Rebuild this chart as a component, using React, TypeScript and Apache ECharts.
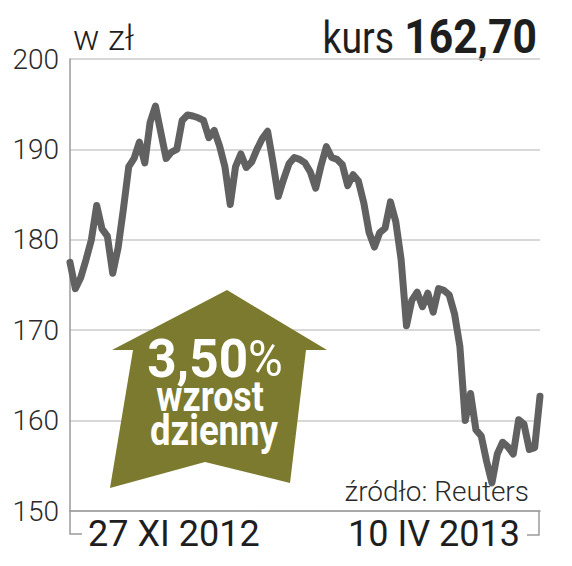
import React, { useEffect, useRef } from "react";
import * as echarts from "echarts";

// Daily closing prices (zł), 27 XI 2012 – 10 IV 2013
const prices: number[] = [
  177.5, 174.6, 175.8, 177.8, 180.0, 183.8, 181.2, 180.4, 176.3, 179.1,
  183.4, 188.1, 189.0, 190.8, 188.5, 193.0, 194.8, 191.9, 189.0, 189.7,
  190.0, 193.2, 193.8, 193.7, 193.5, 193.2, 191.3, 192.1, 190.4, 188.1,
  183.9, 188.1, 189.5, 188.0, 188.6, 190.0, 191.2, 192.0, 188.6, 184.8,
  186.7, 188.4, 189.1, 188.9, 188.5, 187.5, 185.7, 188.2, 190.3, 189.1,
  188.9, 188.3, 186.0, 187.2, 186.5, 184.1, 180.8, 179.2, 180.8, 181.3,
  184.2, 182.0, 177.8, 170.5, 173.3, 174.2, 172.6, 174.1, 172.0, 174.6,
  174.4, 173.9, 171.8, 168.2, 160.0, 163.0, 159.0, 158.3, 155.5, 153.1,
  156.3, 157.6, 157.1, 156.3, 160.1, 159.6, 156.8, 157.0, 162.7,
];
const days: string[] = prices.map((_, i) => `d${i + 1}`);
const xTickLabels: string[] = ["27 XI 2012", "10 IV 2013"];
const yMin = 150;
const yMax = 200;
const yStep = 10;
const unitLabel = "w zł";
const kursLabel = "kurs";
const kursValue = "162,70";
const changeValue = "3,50";
const changeLines: string[] = ["wzrost", "dzienny"];
const sourceLabel = "źródło: Reuters";

const FONT = "Roboto, 'Noto Sans', sans-serif";

export default function App() {
  const ref = useRef<HTMLDivElement>(null);
  useEffect(() => {
    if (!ref.current) return;
    const chart = echarts.init(ref.current, undefined, { renderer: "svg" });
    const olive = "#7b7a2e";
    const dark = "#1e1e1e";
    chart.setOption({
      animation: false,
      backgroundColor: "#ffffff",
      grid: { left: 70, right: 32, top: 59, bottom: 55 },
      xAxis: {
        type: "category",
        data: days,
        boundaryGap: false,
        axisLine: { show: true, lineStyle: { color: "#9a9a9a", width: 1.5 } },
        axisTick: { show: false },
        axisLabel: { show: false },
        splitLine: { show: false },
      },
      yAxis: {
        type: "value",
        min: yMin,
        max: yMax,
        interval: yStep,
        axisLine: { show: true, lineStyle: { color: "#9a9a9a", width: 1.5 } },
        axisTick: { show: false },
        axisLabel: {
          margin: 11,
          fontSize: 28,
          fontFamily: FONT,
          fontWeight: 300,
          color: "#2a2a2a",
        },
        splitLine: { show: true, lineStyle: { color: "#cbcbcb", width: 1.5 } },
      },
      series: [
        {
          type: "line",
          data: prices,
          symbol: "none",
          z: 5,
          lineStyle: { color: "#616161", width: 7, join: "round", cap: "round" },
        },
      ],
      graphic: [
        // bottom brackets
        {
          type: "polyline",
          z: 3,
          shape: { points: [[70, 511], [70, 534], [82, 534]] },
          style: { stroke: "#9a9a9a", lineWidth: 1.5, fill: "none" },
        },
        {
          type: "polyline",
          z: 3,
          shape: { points: [[539, 511], [539, 535], [527, 535]] },
          style: { stroke: "#9a9a9a", lineWidth: 1.5, fill: "none" },
        },
        // unit
        {
          type: "text",
          x: 73,
          y: 38,
          style: {
            text: unitLabel,
            fontSize: 35,
            fontFamily: FONT,
            fontWeight: 300,
            fill: dark,
            textAlign: "left",
            textVerticalAlign: "middle",
          },
        },
        // kurs
        {
          type: "group",
          x: 394,
          y: 37.8,
          scaleX: 0.85,
          children: [
            {
              type: "text",
              x: 0,
              y: 0,
              style: {
                text: kursLabel,
                fontSize: 44,
                fontFamily: FONT,
                fill: dark,
                textAlign: "right",
                textVerticalAlign: "middle",
              },
            },
          ],
        },
        {
          type: "group",
          x: 537,
          y: 36.3,
          scaleX: 0.87,
          children: [
            {
              type: "text",
              x: 0,
              y: 0,
              style: {
                text: kursValue,
                fontSize: 49,
                fontWeight: "bold",
                fontFamily: FONT,
                fill: dark,
                textAlign: "right",
                textVerticalAlign: "middle",
              },
            },
          ],
        },
        // x tick labels
        {
          type: "text",
          x: 88,
          y: 534,
          style: {
            text: xTickLabels[0],
            fontSize: 36,
            fontFamily: FONT,
            fill: dark,
            textAlign: "left",
            textVerticalAlign: "middle",
          },
        },
        {
          type: "text",
          x: 520,
          y: 534,
          style: {
            text: xTickLabels[1],
            fontSize: 36,
            fontFamily: FONT,
            fill: dark,
            textAlign: "right",
            textVerticalAlign: "middle",
          },
        },
        // source
        {
          type: "text",
          x: 529,
          y: 491,
          z: 1,
          style: {
            text: sourceLabel,
            fontSize: 28,
            fontFamily: FONT,
            fontWeight: 300,
            fill: "#2a2a2a",
            textAlign: "right",
            textVerticalAlign: "middle",
          },
        },
        // arrow
        {
          type: "polygon",
          z: 4,
          shape: {
            points: [
              [227, 290],
              [327, 350],
              [306, 350],
              [290, 483],
              [205, 462],
              [110, 488],
              [133, 350],
              [112, 350],
            ],
          },
          style: { fill: olive },
        },
        {
          type: "group",
          x: 215,
          y: 359,
          z: 6,
          scaleX: 0.95,
          children: [
            {
              type: "text",
              x: 0,
              y: 0,
              z: 6,
              style: {
                text: `{n|${changeValue}}{p|%}`,
                textAlign: "center",
                textVerticalAlign: "middle",
                rich: {
                  n: { fontSize: 54, fontWeight: "bold", fontFamily: FONT, fill: "#ffffff", color: "#ffffff" },
                  p: { fontSize: 50, fontWeight: "normal", fontFamily: FONT, fill: "#ffffff", color: "#ffffff" },
                },
              },
            },
          ],
        },
        {
          type: "group",
          x: 210,
          y: 397,
          z: 6,
          scaleX: 0.85,
          children: [
            {
              type: "text",
              x: 0,
              y: 0,
              z: 6,
              style: {
                text: changeLines[0],
                fontSize: 42,
                fontWeight: "bold",
                fontFamily: FONT,
                fill: "#ffffff",
                textAlign: "center",
                textVerticalAlign: "middle",
              },
            },
          ],
        },
        {
          type: "group",
          x: 214,
          y: 431,
          z: 6,
          scaleX: 0.87,
          children: [
            {
              type: "text",
              x: 0,
              y: 0,
              z: 6,
              style: {
                text: changeLines[1],
                fontSize: 42,
                fontWeight: "bold",
                fontFamily: FONT,
                fill: "#ffffff",
                textAlign: "center",
                textVerticalAlign: "middle",
              },
            },
          ],
        },
      ],
    });
    return () => chart.dispose();
  }, []);
  return <div ref={ref} style={{ width: 572, height: 566, position: "absolute", left: 0, top: 0 }} />;
}
